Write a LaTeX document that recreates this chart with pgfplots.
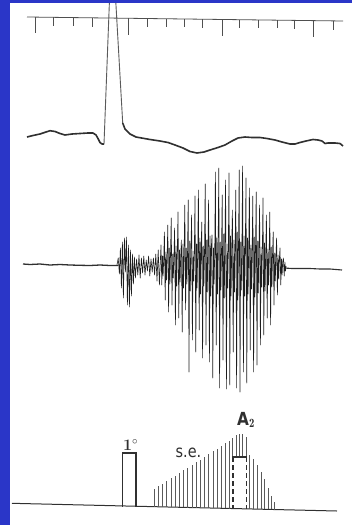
\documentclass[border=0pt]{standalone}
\usepackage{pgfplots}
\pgfplotsset{compat=1.18}
\usepackage{fontspec}
\newfontfamily\hand{DejaVu Sans}
\definecolor{slideblue}{RGB}{42,54,200}
\definecolor{topblue}{RGB}{28,38,150}
\definecolor{ink}{RGB}{48,48,48}
\definecolor{dark}{RGB}{30,30,30}
\begin{document}
\begin{tikzpicture}
\begin{axis}[width=352pt,height=525pt,scale only axis,
  xmin=0,xmax=352,ymin=0,ymax=525,y dir=reverse,
  axis lines=none,clip=true,unbounded coords=jump]
% background
\addplot[fill=slideblue,draw=none] coordinates {(0,0)(352,0)(352,525)(0,525)} -- cycle;
\addplot[fill=white,draw=none] coordinates {(10,3.3)(352,3.3)(352,525)(10,525)} -- cycle;
% time marker line
\addplot[ink!85,line width=0.8pt] coordinates {(27,17)(343,21)};
\addplot[ink!85,line width=0.9pt] coordinates {
(35,17.1)(35,33) (nan,nan)
(53,17.3)(53,26) (nan,nan)
(73,17.6)(73,26) (nan,nan)
(92,17.8)(92,27) (nan,nan)
(128,18.3)(128,35) (nan,nan)
(147,18.5)(147,27) (nan,nan)
(166,18.8)(166,27) (nan,nan)
(184,19)(184,27) (nan,nan)
(202,19.2)(202,28) (nan,nan)
(222,19.5)(222,36) (nan,nan)
(239,19.7)(239,28) (nan,nan)
(258,19.9)(258,28) (nan,nan)
(277,20.2)(277,28) (nan,nan)
(294,20.4)(294,29) (nan,nan)
(313,20.6)(313,37) (nan,nan)
(333,20.9)(333,30)};
% top trace with spike
\addplot[ink,line width=1.6pt,line join=round] coordinates {
(27,137)(33,135.5)(40,134)(46,132)(50,130.7)(55,131.5)(60,133.5)(65,135)(72,134)(80,133.5)(88,133)(93,133)(96,135)(98,138.5)(100,142.5)(102,144)(104,144)};
\addplot[ink!80,line width=0.9pt,line join=round] coordinates {
(104,144)(109.4,2)(115.8,2)(122.7,123)};
\addplot[fill=slideblue,draw=none] coordinates {(0,0)(352,0)(352,3.3)(0,3.3)} -- cycle;
\addplot[ink,line width=1.6pt,line join=round] coordinates {
(122.7,123)(125,129)(130,134)(136,137)(150,139.5)(160,141)(168,142.5)(175,145)(183,148)(190,151.5)(197,153)(204,152)(210,150)(218,147.5)(225,145)(232,141)(238,138)(245,137)(252,137.5)(260,137.5)(267,138.5)(275,140)(282,142)(290,144)(295,144)(300,142.5)(306,141)(313,139.5)(318,140)(322,141)(325,143.5)(328,143)(335,143)(340,143.5)(343,146)};
% middle trace
\addplot[ink,line width=1.3pt] coordinates {
(23,264)(30,264.5)(40,264)(50,265)(60,264.5)(70,265)(80,265.3)(90,265.5)(100,265)(110,265.5)(118,265.5)};
\addplot[ink,line width=1.1pt] coordinates {
(284,268)(292,268.5)(300,268.5)(310,268.5)(320,269)(330,269)(342,270)};
\addplot[dark,line width=0.6pt,line join=round] coordinates {
(117,265)(118.2,258)(119.4,274)(120.4,248)(121.4,288)(122.4,242)(123.4,298)(124.4,238)(125.4,272)(126.4,237)(127.4,305)(128.4,245)(129.4,307)(130.4,250)(131.4,296)(132.4,254)(133.4,284)(134.4,257)(135.4,278)(136.6,259)(137.8,275)(139,255)(140.2,278)(141.4,258)(142.6,273)(143.8,256)(145,275)(146.2,260)(147.4,271)(148.6,256)(149.8,276)(151,259)(152.2,272)(153.4,258)(154.6,275)(155.8,254)(157,281)(158.2,250)(159.4,285)(160.3,262)
(161,245)(161.8,285)(162.5,256)(163.1,276)(163.7,260)
(164.4,232)(165.2,300)(165.9,252)(166.5,280)(167.1,258)
(167.8,225)(168.6,312)(169.3,248)(169.9,284)(170.5,255)
(171.2,218)(172,305)(172.7,254)(173.3,278)(173.9,259)
(174.6,228)(175.4,325)(176.1,246)(176.7,286)(177.3,254)
(178,212)(178.8,318)(179.5,250)(180.1,282)(180.7,256)
(181.4,240)(182.2,332)(182.9,244)(183.5,288)(184.1,253)
(184.8,205)(185.6,310)(186.3,248)(186.9,284)(187.5,255)
(188.2,200)(189,372)(189.7,241)(190.3,291)(190.9,251)
(191.6,215)(192.4,340)(193.1,251)(193.7,281)(194.3,257)
(195,196)(195.8,352)(196.5,244)(197.1,288)(197.7,253)
(198.4,190)(199.2,330)(199.9,238)(200.5,294)(201.1,249)
(201.8,222)(202.6,358)(203.3,246)(203.9,286)(204.5,254)
(205.2,184)(206,345)(206.7,240)(207.3,292)(207.9,250)
(208.6,200)(209.4,362)(210.1,236)(210.7,296)(211.3,248)
(212,235)(212.8,378)(213.5,248)(214.1,284)(214.7,255)
(215.4,172)(216.2,345)(216.9,238)(217.5,294)(218.1,249)
(218.8,168)(219.6,388)(220.3,242)(220.9,290)(221.5,252)
(222.2,195)(223,360)(223.7,234)(224.3,298)(224.9,247)
(225.6,180)(226.4,389)(227.1,244)(227.7,288)(228.3,253)
(229,173)(229.8,385)(230.5,236)(231.1,296)(231.7,248)
(232.4,210)(233.2,352)(233.9,240)(234.5,292)(235.1,250)
(235.8,190)(236.6,388)(237.3,232)(237.9,300)(238.5,246)
(239.2,170)(240,392)(240.7,242)(241.3,290)(241.9,252)
(242.6,166)(243.4,372)(244.1,236)(244.7,296)(245.3,248)
(246,178)(246.8,383)(247.5,238)(248.1,294)(248.7,249)
(249.4,188)(250.2,350)(250.9,245)(251.5,289)(252.1,254)
(252.8,196)(253.6,372)(254.3,237)(254.9,297)(255.5,249)
(256.2,192)(257,365)(257.7,241)(258.3,293)(258.9,251)
(259.6,205)(260.4,345)(261.1,247)(261.7,287)(262.3,255)
(263,198)(263.8,335)(264.5,243)(265.1,291)(265.7,253)
(266.4,215)(267.2,318)(267.9,249)(268.5,285)(269.1,256)
(269.8,212)(270.6,325)(271.3,247)(271.9,287)(272.5,255)
(273.2,232)(274,305)(274.7,253)(275.3,281)(275.9,258)
(276.6,238)(277.4,295)(278.1,255)(278.7,279)(279.3,260)
(280,248)(280.8,285)(281.5,259)(282.1,275)(282.7,262)
(283.4,258)(284.2,276)(284.9,262)(285.5,271)(286.1,266)};
% bottom panel baseline
\addplot[ink,line width=1pt] coordinates {(12,503.3)(337,511)};
% stimulus rectangle
\addplot[ink,line width=1.1pt] coordinates {(122.7,506.5)(122.7,453)(136,453)(136,506.8)};
% hatching (s.e.)
\addplot[ink!80,line width=0.7pt] coordinates {
(154,506.7)(154,489) (nan,nan)
(158,506.8)(158,486.4) (nan,nan)
(162.5,506.9)(162.5,483.6) (nan,nan)
(166.5,507)(166.5,481) (nan,nan)
(171,507.1)(171,478.1) (nan,nan)
(175,507.2)(175,475.6) (nan,nan)
(179,507.3)(179,473) (nan,nan)
(183.5,507.4)(183.5,470.1) (nan,nan)
(187.5,507.5)(187.5,467.6) (nan,nan)
(192,507.6)(192,464.7) (nan,nan)
(196,507.7)(196,462.1) (nan,nan)
(200,507.8)(200,459.6) (nan,nan)
(204.5,507.9)(204.5,456.7) (nan,nan)
(208.5,508)(208.5,454.1) (nan,nan)
(213,508.1)(213,451.3) (nan,nan)
(217,508.2)(217,448.7) (nan,nan)
(221,508.3)(221,446.1) (nan,nan)
(225.5,508.4)(225.5,443.2) (nan,nan)
(229,508.5)(229,440.7) (nan,nan)
(232.7,457)(232.7,438) (nan,nan)
(236,457)(236,435) (nan,nan)
(239.3,457)(239.3,433.5) (nan,nan)
(242.8,457)(242.8,434) (nan,nan)
(246.5,457)(246.5,436.5) (nan,nan)
(249.5,508.9)(249.5,455) (nan,nan)
(253,509)(253,459) (nan,nan)
(257,509.1)(257,465) (nan,nan)
(261,509.2)(261,472) (nan,nan)
(264.5,509.3)(264.5,479) (nan,nan)
(268,509.4)(268,488) (nan,nan)
(271,509.4)(271,496) (nan,nan)
(274,509.5)(274,502)};
% A2 dashed rectangle
\addplot[ink,line width=1.2pt] coordinates {(232.2,457)(247,457)};
\addplot[ink,line width=1.7pt,dash pattern=on 5pt off 3pt] coordinates {(232.7,457)(232.7,508.6)};
\addplot[ink,line width=1.2pt,dash pattern=on 5pt off 3pt] coordinates {(246.5,457)(246.5,508.9)};
% labels
\node[text=ink,font=\hand\fontsize{17}{17}\selectfont,xscale=0.85] at (axis cs:188.5,453) {s.e.};
\node[text=ink,font=\hand\bfseries\fontsize{18}{18}\selectfont,xscale=0.85] at (axis cs:246,420) {A$_{\mathbf{2}}$};
\node[text=ink,font=\bfseries\fontsize{16}{16}\selectfont] at (axis cs:130.5,445) {1$^{\circ}$};
\end{axis}
\end{tikzpicture}
\end{document}
